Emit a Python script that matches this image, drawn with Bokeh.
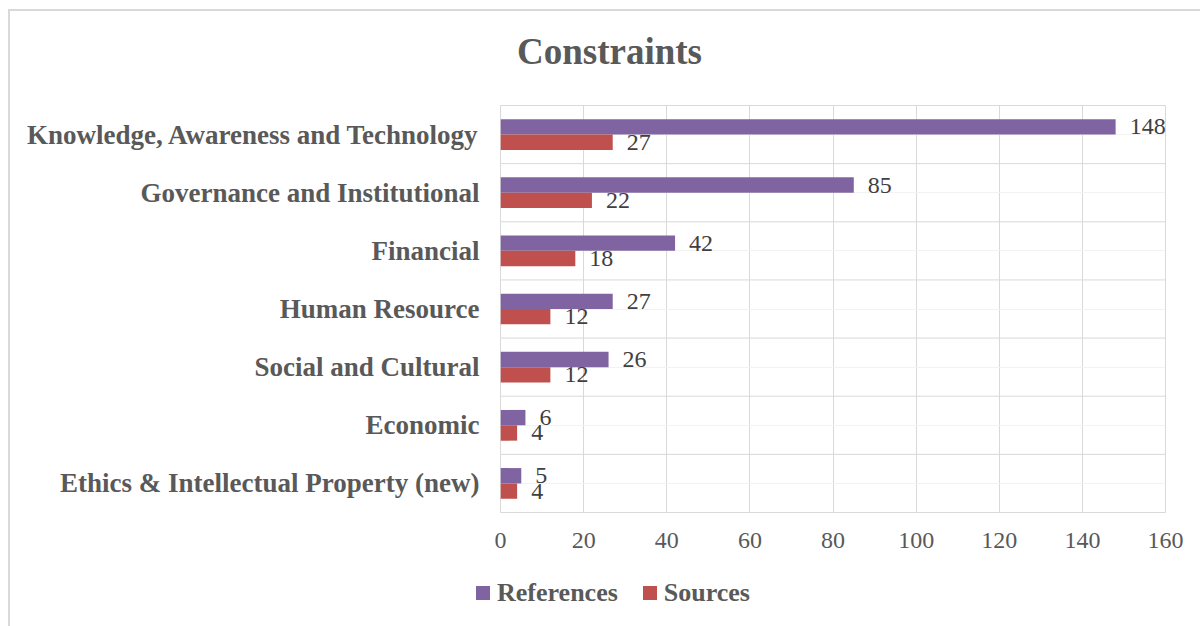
from bokeh.plotting import figure
from bokeh.layouts import column
from bokeh.models import (ColumnDataSource, LabelSet, Span, Div,
                          Range1d, FactorRange, FixedTicker)
from bokeh.transform import dodge
from bokeh.core.properties import value
from bokeh.embed import file_html
from bokeh.resources import INLINE

# ---- data ----
title_text = "Constraints"
categories = ["Knowledge, Awareness and Technology", "Governance and Institutional",
              "Financial", "Human Resource", "Social and Cultural", "Economic",
              "Ethics & Intellectual Property (new)"]
references = [148, 85, 42, 27, 26, 6, 5]
sources = [27, 22, 18, 12, 12, 4, 4]
x_ticks = [0, 20, 40, 60, 80, 100, 120, 140, 160]
series_names = ["References", "Sources"]

PURPLE = "#8064A2"
RED = "#C0504D"
series_colors = [PURPLE, RED]
FONT = "Liberation Serif"

src = ColumnDataSource(dict(cat=categories, refs=references, srcs=sources))

p = figure(frame_width=665, frame_height=407, output_backend="svg", toolbar_location=None,
           y_range=FactorRange(factors=categories[::-1], range_padding=0),
           x_range=Range1d(x_ticks[0], x_ticks[-1]),
           min_border_left=490, min_border_right=35, min_border_top=5, min_border_bottom=60)

p.outline_line_color = "#d9d9d9"
p.outline_line_width = 1

# grids
p.xgrid.ticker = FixedTicker(ticks=x_ticks)
p.xgrid.grid_line_color = "#d9d9d9"
p.ygrid.grid_line_color = "#f2f2f2"
for i in range(1, len(categories)):
    p.add_layout(Span(location=i, dimension="width", line_color="#d9d9d9",
                      line_width=1, level="underlay"))

bh = 0.264
p.hbar(y=dodge("cat", bh / 2, range=p.y_range), left=0, right="refs", height=bh,
       source=src, fill_color=PURPLE, line_color=None)
p.hbar(y=dodge("cat", -bh / 2, range=p.y_range), left=0, right="srcs", height=bh,
       source=src, fill_color=RED, line_color=None)

for col, off in (("refs", bh / 2), ("srcs", -bh / 2)):
    p.add_layout(LabelSet(x=col, y=dodge("cat", off, range=p.y_range), text=col, source=src,
                          x_offset=14, text_baseline="middle", text_align="left",
                          text_font=value(FONT), text_font_size="24px", text_color="#404040"))

# axes
p.xaxis.ticker = FixedTicker(ticks=x_ticks)
for ax in (p.xaxis, p.yaxis):
    ax.axis_line_color = None
    ax.major_tick_line_color = None
    ax.minor_tick_line_color = None
p.xaxis.major_label_text_font = FONT
p.xaxis.major_label_text_font_size = "24px"
p.xaxis.major_label_text_color = "#595959"
p.xaxis.major_label_standoff = 14
p.yaxis.major_label_text_font = FONT
p.yaxis.major_label_text_font_size = "27px"
p.yaxis.major_label_text_font_style = "bold"
p.yaxis.major_label_text_color = "#595959"
p.yaxis.major_label_standoff = 15

# title strip (HTML text)
title_html = (f'<div style="padding-left:507px;padding-top:19px;line-height:44px;'
              f'font-family:\'{FONT}\';font-weight:bold;font-size:37px;color:#595959;'
              f'white-space:nowrap">{title_text}</div>')
title_div = Div(text=title_html, width=1190, height=89, margin=0)

# legend strip below the chart (HTML text)
items = "".join(
    f'<span style="display:inline-flex;align-items:center;margin-right:25px">'
    f'<span style="display:inline-block;width:14px;height:14px;background:{c};margin-right:7px"></span>'
    f'<span>{n}</span></span>'
    for n, c in zip(series_names, series_colors))
legend_html = (f'<div style="padding-left:466px;height:42px;display:flex;align-items:center;'
               f'font-family:\'{FONT}\';font-weight:bold;font-size:26px;color:#595959;'
               f'white-space:nowrap">{items}</div>')
legend_div = Div(text=legend_html, width=1190, height=54, margin=0)

layout = column(title_div, p, legend_div, spacing=0,
                styles={"margin-left": "8px", "margin-top": "9px",
                        "border-left": "2px solid #d9d9d9", "border-top": "2px solid #d9d9d9"})

open("out.html", "w").write(file_html(layout, INLINE))
